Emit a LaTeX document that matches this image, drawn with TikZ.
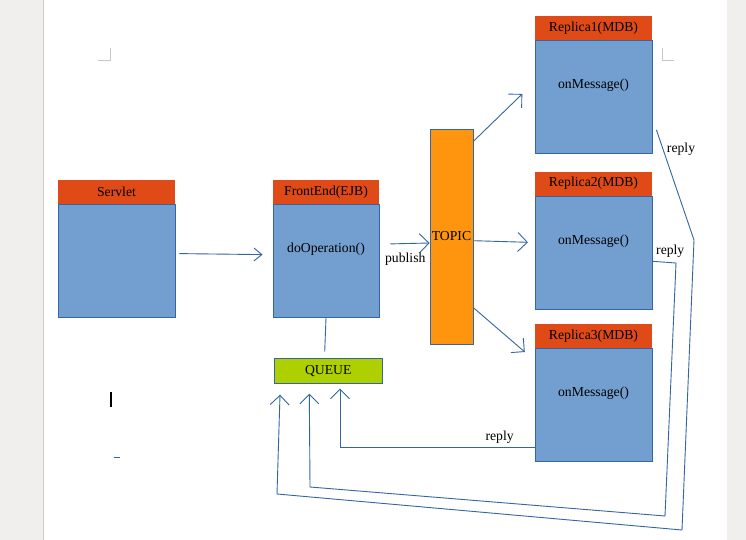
\documentclass[tikz,border=0pt]{standalone}
\usepackage{fontspec}
\setmainfont{Liberation Serif}
\usepackage{tikz}
\usetikzlibrary{positioning,arrows.meta}
\definecolor{hdrred}{HTML}{E04A17}
\definecolor{boxblue}{HTML}{729FCF}
\definecolor{lineblue}{HTML}{3465A4}
\definecolor{topicorange}{HTML}{FF950E}
\definecolor{queuegreen}{HTML}{AFD000}
\definecolor{pagegrey}{HTML}{F0EFED}
\tikzset{
 hdr/.style={fill=hdrred, minimum width=117pt, minimum height=24pt, inner sep=0pt},
 classbody/.style={fill=boxblue, draw=lineblue, line width=0.8pt, minimum width=117pt, minimum height=113pt, inner sep=0pt},
 topicbar/.style={fill=topicorange, draw=lineblue, line width=0.8pt, minimum width=43pt, minimum height=215pt, inner sep=0pt},
 queuebox/.style={fill=queuegreen, draw=lineblue, line width=0.8pt, minimum width=108pt, minimum height=25pt, inner sep=0pt},
 wire/.style={draw=lineblue, line width=0.9pt},
 msg/.style={wire, -{Straight Barb[length=9.5pt,width=19pt]}},
}

\begin{document}
\begin{tikzpicture}[x=1pt,y=-1pt,font=\fontsize{13.7}{16}\selectfont]
\useasboundingbox (0,0) rectangle (746,540);
% page
\fill[pagegrey] (0,0) rectangle (746,540);
\fill[white] (44,0) rectangle (726.5,540);
\draw[gray!40] (43.5,0) -- (43.5,540);
\draw[gray!45, line width=0.8pt] (110,48) -- (110,60) -- (98,60);
\draw[gray!45, line width=0.8pt] (662,48) -- (662,60) -- (674,60);
\fill[black] (110,392) rectangle (112,406.7);
\draw[lineblue] (114.3,457.3) -- (120,457.3);

% nodes
\node[hdr] (servlethead) at (116.5,192) {Servlet};%
 \node[classbody, below=0pt of servlethead] (servlet) {};%
 \node[hdr, minimum width=106pt] (fronthead) at (326,192) {FrontEnd(EJB)};%
 \node[classbody, minimum width=106pt, below=0pt of fronthead, label={[yshift=12pt]center:doOperation()}] (frontend) {};%
 \node[queuebox] (queue) at (328.3,370.8) {QUEUE};
 \node[topicbar] (topic) at (451.5,236.5) {TOPIC};

 \node[hdr] (r1head) at (593.5,28) {Replica1(MDB)};
 \node[classbody, below=0pt of r1head, label={[yshift=11.5pt]center:onMessage()}] (replica1) {};
 \node[hdr, below=17.5pt of replica1] (r2head) {Replica2(MDB)};
 \node[classbody, below=0pt of r2head, label={[yshift=11.5pt]center:onMessage()}] (replica2) {};
 \node[hdr, below=14pt of replica2] (r3head) {Replica3(MDB)};
 \node[classbody, below=0pt of r3head, label={[yshift=12pt]center:onMessage()}] (replica3) {};

% edges
 \draw[msg, -{Straight Barb[length=8pt,width=13pt]}] ([xshift=4pt,yshift=7.5pt]servlet.east) -- ([xshift=-10pt,yshift=6.5pt]frontend.west);
 \draw[wire] (frontend.south) -- ([xshift=-3.6pt,yshift=6.3pt]queue.north);
 \draw[msg] ([xshift=11pt,yshift=17.2pt]frontend.east) -- node[pos=.38, below=6pt] {publish} ([yshift=-6.5pt]topic.west);
 \draw[msg] ([yshift=-12.7pt]topic.north east) -- ([xshift=-12.3pt,yshift=3.2pt]replica1.west);
 \draw[msg] ([yshift=-4.2pt]topic.east) -- ([xshift=-6.7pt,yshift=10.5pt]replica2.west);
 \draw[msg] ([yshift=36.7pt]topic.south east) -- ([xshift=-10pt,yshift=-3.9pt]r3head.south west);

 % replies
 \draw[msg] ([yshift=-42pt]replica3.west) -| node[pos=.09, above] {reply} ([xshift=11.7pt,yshift=-5pt]queue.south);
 \draw[msg] ([yshift=-8.5pt]replica2.east) -- node[pos=0, above right] {reply} (676,263) -- (665,516) -- (310,487) -- ([xshift=-19pt,yshift=-10pt]queue.south);
 \draw[msg] ([xshift=4pt,yshift=-32.8pt]replica1.east) -- node[pos=.18, right] {reply} (694,240) -- (682,530) -- (277,494) -- ([xshift=-48.3pt,yshift=-11pt]queue.south);
\end{tikzpicture}
\end{document}
